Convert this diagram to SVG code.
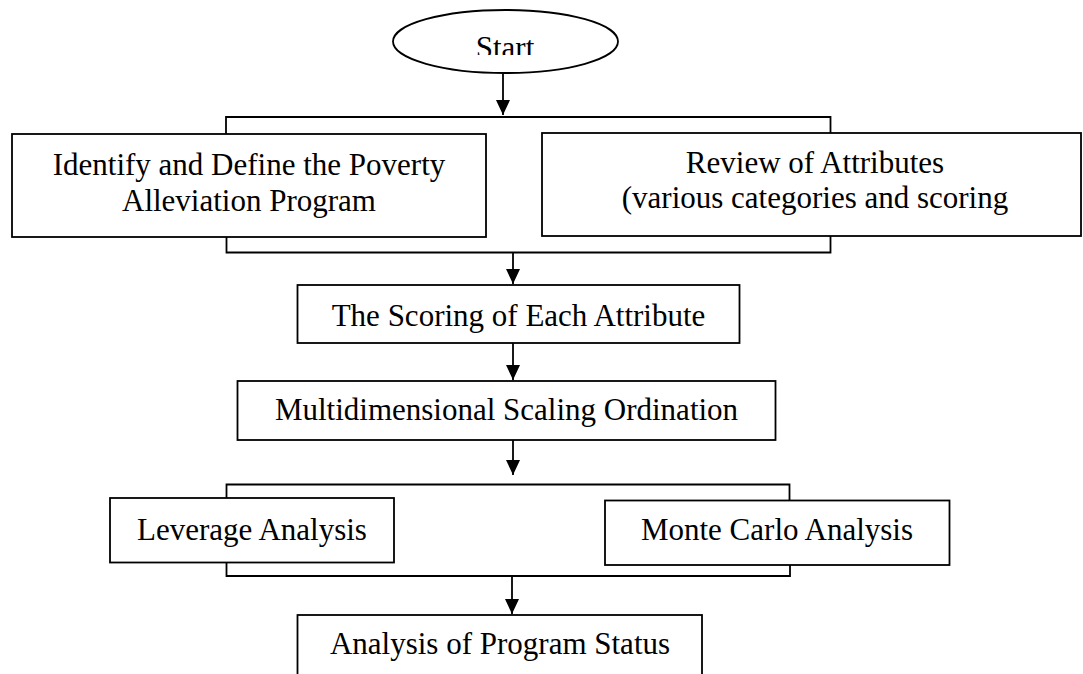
<svg xmlns="http://www.w3.org/2000/svg" width="1083" height="674" viewBox="0 0 1083 674">
<style>
.box{fill:#fff;stroke:#000;stroke-width:1.8}
.ln{fill:none;stroke:#000;stroke-width:1.8}
.t{font-family:"Liberation Serif","Times New Roman",serif;font-size:31px;fill:#000;text-anchor:middle}
</style>
<defs>
<marker id="ah" markerUnits="userSpaceOnUse" markerWidth="16" markerHeight="18" refX="15" refY="7" orient="auto" viewBox="0 0 16 14">
<path d="M0,0 L15,7 L0,14 Z" fill="#000"/>
</marker>
<clipPath id="startClip"><rect x="380" y="0" width="250" height="55"/></clipPath>
</defs>
<rect width="1083" height="674" fill="#fff"/>
<g id="connectors">
<line class="ln" x1="503" y1="73" x2="503" y2="115" marker-end="url(#ah)"/>
<polyline class="ln" points="226,134 226,117 830.5,117 830.5,133"/>
<polyline class="ln" points="226.5,237 226.5,252.5 830.5,252.5 830.5,236"/>
<line class="ln" x1="513" y1="252.5" x2="513" y2="284" marker-end="url(#ah)"/>
<line class="ln" x1="513" y1="343" x2="513" y2="380" marker-end="url(#ah)"/>
<line class="ln" x1="513" y1="440" x2="513" y2="475" marker-end="url(#ah)"/>
<polyline class="ln" points="226.5,498 226.5,484.5 789.5,484.5 789.5,500.5"/>
<polyline class="ln" points="226.5,562.5 226.5,576 790,576 790,565"/>
<line class="ln" x1="512" y1="576" x2="512" y2="614" marker-end="url(#ah)"/>
</g>
<g id="start">
<ellipse class="box" cx="505.5" cy="41.5" rx="112.5" ry="31.5"/>
<text class="t" x="505" y="58" clip-path="url(#startClip)">Start</text>
</g>
<g id="identify">
<rect class="box" x="12" y="134" width="474" height="103"/>
<text class="t" x="249" y="175">Identify and Define the Poverty</text>
<text class="t" x="249" y="211">Alleviation Program</text>
</g>
<g id="review">
<rect class="box" x="542" y="133" width="539" height="103"/>
<text class="t" x="815" y="173">Review of Attributes</text>
<text class="t" x="815" y="208">(various categories and scoring</text>
</g>
<g id="scoring">
<rect class="box" x="297.5" y="285" width="442" height="58"/>
<text class="t" x="518.5" y="326">The Scoring of Each Attribute</text>
</g>
<g id="mds">
<rect class="box" x="237.5" y="381" width="538" height="59"/>
<text class="t" x="506.5" y="420">Multidimensional Scaling Ordination</text>
</g>
<g id="leverage">
<rect class="box" x="110" y="498" width="284" height="64.5"/>
<text class="t" x="252" y="539.5">Leverage Analysis</text>
</g>
<g id="montecarlo">
<rect class="box" x="605" y="500.5" width="344.5" height="64.5"/>
<text class="t" x="777" y="540">Monte Carlo Analysis</text>
</g>
<g id="status">
<rect class="box" x="297.5" y="615" width="404.5" height="70"/>
<text class="t" x="500" y="654">Analysis of Program Status</text>
</g>
</svg>
